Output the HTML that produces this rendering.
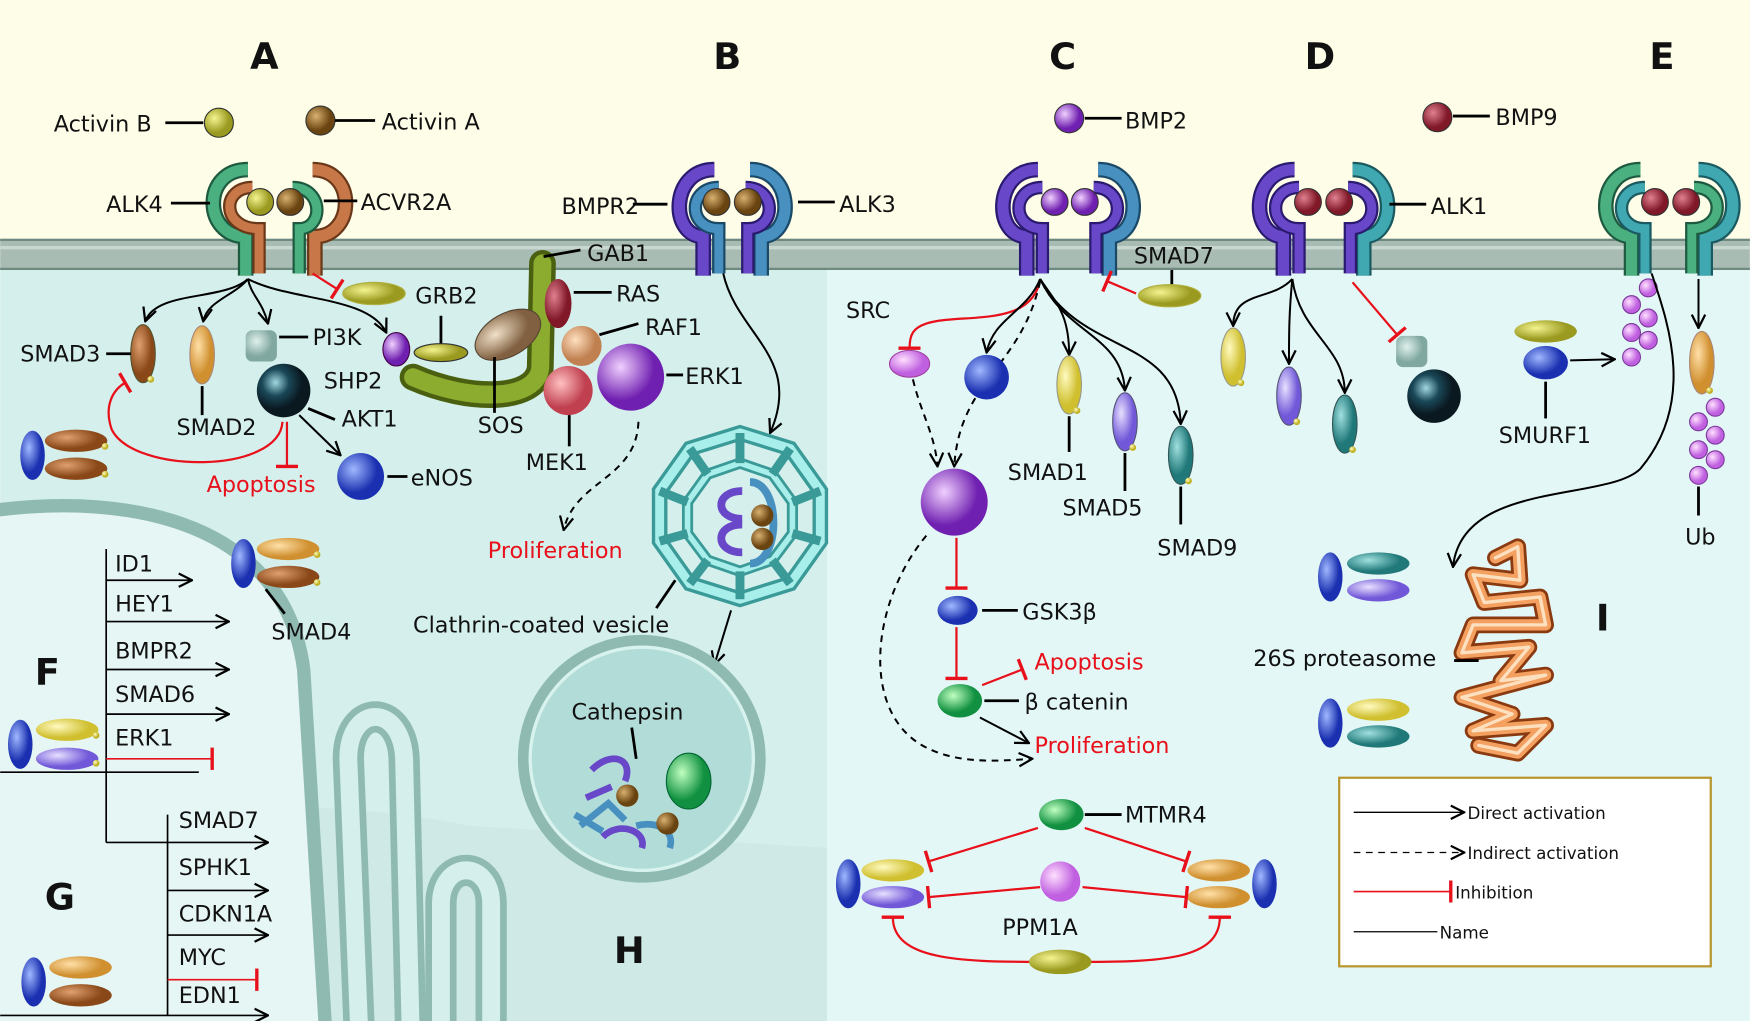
<!DOCTYPE html>
<html><head><meta charset="utf-8"><style>
html,body{margin:0;padding:0;background:#fefde8;}
svg{display:block}
text{font-family:"DejaVu Sans","Liberation Sans",sans-serif;font-size:20px;fill:#111}
.t{font-weight:bold;font-size:33px}
.r{fill:#e8101a}
.lg{font-size:15px}
</style></head><body>
<svg width="1750" height="1021" viewBox="0 0 1568 915" xmlns="http://www.w3.org/2000/svg">
<defs>
<marker id="ar" viewBox="0 0 14 14" refX="13" refY="7" markerWidth="14" markerHeight="14" markerUnits="userSpaceOnUse" orient="auto"><path d="M1,1 L13,7 L1,13" fill="none" stroke="#000" stroke-width="2"/></marker>
<marker id="bar" viewBox="0 0 4 20" refX="2" refY="10" markerWidth="4" markerHeight="20" markerUnits="userSpaceOnUse" orient="auto"><path d="M2,0 L2,20" stroke="#e8101a" stroke-width="3"/></marker>
<radialGradient id="gOl" cx="35%" cy="35%"><stop offset="0" stop-color="#f4f490"/><stop offset="1" stop-color="#9a9a20"/></radialGradient>
<radialGradient id="gBr" cx="35%" cy="35%"><stop offset="0" stop-color="#d8b070"/><stop offset="1" stop-color="#6a4410"/></radialGradient>
<radialGradient id="gPu" cx="35%" cy="35%"><stop offset="0" stop-color="#f0d0ff"/><stop offset="1" stop-color="#7020b0"/></radialGradient>
<radialGradient id="gMa" cx="35%" cy="35%"><stop offset="0" stop-color="#e08090"/><stop offset="1" stop-color="#801828"/></radialGradient>
<radialGradient id="gBl" cx="35%" cy="35%"><stop offset="0" stop-color="#a0b8ff"/><stop offset="1" stop-color="#1a30b0"/></radialGradient>
<radialGradient id="gDk" cx="35%" cy="35%"><stop offset="0" stop-color="#a0d8e0"/><stop offset="0.5" stop-color="#1a4858"/><stop offset="1" stop-color="#0a1820"/></radialGradient>
<radialGradient id="gYe" cx="35%" cy="35%"><stop offset="0" stop-color="#fffac0"/><stop offset="1" stop-color="#d0c030"/></radialGradient>
<radialGradient id="gOr" cx="35%" cy="35%"><stop offset="0" stop-color="#ffe0a8"/><stop offset="1" stop-color="#d09030"/></radialGradient>
<radialGradient id="gCu" cx="35%" cy="35%"><stop offset="0" stop-color="#e0a070"/><stop offset="1" stop-color="#8a4818"/></radialGradient>
<radialGradient id="gLa" cx="35%" cy="35%"><stop offset="0" stop-color="#e8e0ff"/><stop offset="1" stop-color="#7058d8"/></radialGradient>
<radialGradient id="gTe" cx="35%" cy="35%"><stop offset="0" stop-color="#a0e0e0"/><stop offset="1" stop-color="#207878"/></radialGradient>
<radialGradient id="gGr" cx="35%" cy="35%"><stop offset="0" stop-color="#c0ffc0"/><stop offset="1" stop-color="#109040"/></radialGradient>
<radialGradient id="gTa" cx="35%" cy="35%"><stop offset="0" stop-color="#f0e0c8"/><stop offset="1" stop-color="#806040"/></radialGradient>
<radialGradient id="gPk" cx="35%" cy="35%"><stop offset="0" stop-color="#ffc0c0"/><stop offset="1" stop-color="#c04050"/></radialGradient>
<radialGradient id="gPe" cx="35%" cy="35%"><stop offset="0" stop-color="#ffe0c0"/><stop offset="1" stop-color="#c08050"/></radialGradient>
<radialGradient id="gLi" cx="35%" cy="35%"><stop offset="0" stop-color="#ffe0ff"/><stop offset="1" stop-color="#c060e0"/></radialGradient>
<radialGradient id="gMi" cx="35%" cy="35%"><stop offset="0" stop-color="#e0f0ec"/><stop offset="1" stop-color="#80a8a0"/></radialGradient>
<radialGradient id="gSm" cx="35%" cy="35%"><stop offset="0" stop-color="#ffffc0"/><stop offset="1" stop-color="#c0b020"/></radialGradient>
</defs>

<rect x="0" y="0" width="1568" height="915" fill="#fefde8"/>
<rect x="0" y="240" width="741" height="675" fill="#d4efec"/>
<rect x="741" y="240" width="827" height="675" fill="#e4f7f7"/>
<path d="M0,730 C150,720 300,715 420,740 L741,760 L741,915 L0,915 Z" fill="#cfeae6"/>
<rect x="0" y="214" width="1568" height="28" fill="#a9bcb4"/>
<line x1="0" y1="215" x2="1568" y2="215" stroke="#6f8a80" stroke-width="2"/>
<line x1="0" y1="241" x2="1568" y2="241" stroke="#6f8a80" stroke-width="2"/>
<line x1="0" y1="222" x2="1568" y2="222" stroke="#c8d8d0" stroke-width="3"/>

<path d="M-10,458 C120,440 255,470 272,600 L292,930 L-10,930 Z" fill="#e6f6f4" stroke="#8fbab2" stroke-width="12"/>
<path d="M322,930 L312,680 C312,630 360,630 362,680 L368,930" fill="none" stroke="#8fbab2" stroke-width="28"/>
<path d="M322,930 L312,680 C312,630 360,630 362,680 L368,930" fill="none" stroke="#d4efec" stroke-width="16"/>
<path d="M395,930 L395,810 C395,770 440,770 440,810 L440,930" fill="none" stroke="#8fbab2" stroke-width="28"/>
<path d="M395,930 L395,810 C395,770 440,770 440,810 L440,930" fill="none" stroke="#d4efec" stroke-width="16"/>

<text class="t" x="224" y="62">A</text>
<text class="t" x="639" y="62">B</text>
<text class="t" x="940" y="62">C</text>
<text class="t" x="1169" y="62">D</text>
<text class="t" x="1478" y="62">E</text>
<text class="t" x="31" y="614">F</text>
<text class="t" x="40" y="815">G</text>
<text class="t" x="550" y="863">H</text>
<text class="t" x="1430" y="565">I</text>

<!-- A -->
<text x="48" y="118">Activin B</text><line x1="148" y1="110" x2="182" y2="110" stroke="#000" stroke-width="2.5"/>
<circle cx="196" cy="110" r="13" fill="url(#gOl)" stroke="#333"/>
<circle cx="287" cy="108" r="13" fill="url(#gBr)" stroke="#333"/>
<line x1="300" y1="108" x2="336" y2="108" stroke="#000" stroke-width="2.5"/><text x="342" y="116">Activin A</text>
<g fill="none" stroke-linecap="butt">
<path d="M222,152 C180,152 182,212 220,212 L220,247" stroke="#1d5a40" stroke-width="14"/>
<path d="M222,152 C180,152 182,212 220,212 L220,247" stroke="#4ab080" stroke-width="10"/>
<path d="M226,168 C198,168 198,205 232,205 L232,245" stroke="#6a3818" stroke-width="12"/>
<path d="M226,168 C198,168 198,205 232,205 L232,245" stroke="#c87848" stroke-width="8"/>
<path d="M280,152 C320,152 318,212 282,212 L282,247" stroke="#6a3818" stroke-width="14"/>
<path d="M280,152 C320,152 318,212 282,212 L282,247" stroke="#c87848" stroke-width="10"/>
<path d="M262,168 C290,168 290,205 268,205 L268,245" stroke="#1d5a40" stroke-width="12"/>
<path d="M262,168 C290,168 290,205 268,205 L268,245" stroke="#4ab080" stroke-width="8"/>
</g>
<circle cx="233" cy="181" r="12" fill="url(#gOl)" stroke="#333"/>
<circle cx="260" cy="181" r="12" fill="url(#gBr)" stroke="#333"/>
<text x="95" y="190">ALK4</text><line x1="153" y1="182" x2="188" y2="182" stroke="#000" stroke-width="2.5"/>
<line x1="290" y1="180" x2="320" y2="180" stroke="#000" stroke-width="2.5"/><text x="323" y="188">ACVR2A</text>
<g fill="none" stroke="#000" stroke-width="1.8" marker-end="url(#ar)">
<path d="M222,250 C200,270 140,260 130,288"/>
<path d="M222,250 C210,265 185,270 182,288"/>
<path d="M222,250 C225,265 235,270 240,290"/>
<path d="M222,250 C260,270 330,265 346,298"/>
</g>
<line x1="280" y1="245" x2="302" y2="259" stroke="#e8101a" stroke-width="2" marker-end="url(#bar)"/>
<ellipse cx="335" cy="263" rx="28" ry="10" fill="url(#gOl)" stroke="#b0b040"/>
<ellipse cx="128" cy="317" rx="11" ry="26" fill="url(#gCu)" stroke="#553"/><circle cx="135" cy="340" r="3" fill="url(#gSm)"/>
<text x="18" y="324">SMAD3</text><line x1="95" y1="317" x2="117" y2="317" stroke="#000" stroke-width="2.5"/>
<ellipse cx="181" cy="318" rx="11" ry="26" fill="url(#gOr)" stroke="#a87"/><line x1="181" y1="346" x2="181" y2="372" stroke="#000" stroke-width="2.5"/>
<text x="158" y="390">SMAD2</text>
<rect x="220" y="296" width="28" height="28" rx="6" fill="url(#gMi)"/>
<line x1="250" y1="302" x2="276" y2="302" stroke="#000" stroke-width="2.5"/><text x="280" y="309">PI3K</text>
<circle cx="254" cy="350" r="24" fill="url(#gDk)"/>
<line x1="276" y1="366" x2="300" y2="376" stroke="#000" stroke-width="2.5"/><text x="306" y="382">AKT1</text>
<ellipse cx="355" cy="313" rx="12" ry="15" fill="url(#gPu)" stroke="#404"/>
<text x="290" y="348">SHP2</text>
<path d="M253,378 C250,425 120,425 100,385 C93,365 100,350 112,343" fill="none" stroke="#e8101a" stroke-width="2" marker-end="url(#bar)"/>
<line x1="257" y1="378" x2="257" y2="418" stroke="#e8101a" stroke-width="2" marker-end="url(#bar)"/>
<text class="r" x="185" y="441">Apoptosis</text>
<line x1="268" y1="372" x2="305" y2="408" stroke="#000" stroke-width="1.8" marker-end="url(#ar)"/>
<circle cx="323" cy="427" r="21" fill="url(#gBl)"/>
<line x1="347" y1="427" x2="365" y2="427" stroke="#000" stroke-width="2.5"/><text x="368" y="435">eNOS</text>
<ellipse cx="29" cy="408" rx="11" ry="22" fill="url(#gBl)"/>
<ellipse cx="68" cy="395" rx="28" ry="10" fill="url(#gCu)"/><ellipse cx="68" cy="420" rx="28" ry="10" fill="url(#gCu)"/>
<circle cx="94" cy="400" r="3" fill="url(#gSm)"/><circle cx="94" cy="425" r="3" fill="url(#gSm)"/>
<line x1="395" y1="308" x2="395" y2="283" stroke="#000" stroke-width="2.5"/><text x="372" y="272">GRB2</text>
<path d="M486,236 L484,330 C480,360 420,360 370,338" fill="none" stroke="#4a6010" stroke-width="24" stroke-linecap="round"/>
<path d="M486,236 L484,330 C480,360 420,360 370,338" fill="none" stroke="#8cac30" stroke-width="16" stroke-linecap="round"/>
<ellipse cx="395" cy="316" rx="24" ry="8" fill="url(#gOl)" stroke="#333"/>
<ellipse cx="455" cy="300" rx="32" ry="19" transform="rotate(-30 455 300)" fill="url(#gTa)" stroke="#543"/>
<line x1="443" y1="320" x2="443" y2="370" stroke="#000" stroke-width="2.5"/><text x="428" y="388">SOS</text>
<line x1="487" y1="230" x2="520" y2="224" stroke="#000" stroke-width="2.5"/><text x="526" y="234">GAB1</text>
<ellipse cx="500" cy="272" rx="12" ry="22" fill="url(#gMa)"/>
<line x1="514" y1="262" x2="548" y2="262" stroke="#000" stroke-width="2.5"/><text x="552" y="270">RAS</text>
<circle cx="521" cy="310" r="18" fill="url(#gPe)"/>
<line x1="537" y1="300" x2="572" y2="290" stroke="#000" stroke-width="2.5"/><text x="578" y="300">RAF1</text>
<circle cx="509" cy="350" r="22" fill="url(#gPk)"/>
<circle cx="565" cy="338" r="30" fill="url(#gPu)"/>
<line x1="597" y1="336" x2="612" y2="336" stroke="#000" stroke-width="2.5"/><text x="614" y="344">ERK1</text>
<line x1="510" y1="372" x2="510" y2="400" stroke="#000" stroke-width="2.5"/><text x="471" y="421">MEK1</text>
<path d="M572,378 C570,430 515,430 505,475" fill="none" stroke="#000" stroke-width="1.8" stroke-dasharray="6,5" marker-end="url(#ar)"/>
<text class="r" x="437" y="500">Proliferation</text>

<!-- B -->
<g fill="none">
<path d="M640,152 C600,152 600,212 630,212 L630,247" stroke="#2a1a70" stroke-width="14"/>
<path d="M640,152 C600,152 600,212 630,212 L630,247" stroke="#6848c8" stroke-width="10"/>
<path d="M644,168 C616,168 616,205 644,205 L644,245" stroke="#1a4a68" stroke-width="12"/>
<path d="M644,168 C616,168 616,205 644,205 L644,245" stroke="#4890c0" stroke-width="8"/>
<path d="M672,152 C712,152 712,212 682,212 L682,247" stroke="#1a4a68" stroke-width="14"/>
<path d="M672,152 C712,152 712,212 682,212 L682,247" stroke="#4890c0" stroke-width="10"/>
<path d="M668,168 C696,168 696,205 670,205 L670,245" stroke="#2a1a70" stroke-width="12"/>
<path d="M668,168 C696,168 696,205 670,205 L670,245" stroke="#6848c8" stroke-width="8"/>
</g>
<circle cx="642" cy="181" r="12" fill="url(#gBr)" stroke="#333"/><circle cx="670" cy="181" r="12" fill="url(#gBr)" stroke="#333"/>
<text x="503" y="192">BMPR2</text><line x1="567" y1="183" x2="598" y2="183" stroke="#000" stroke-width="2.5"/>
<line x1="715" y1="181" x2="748" y2="181" stroke="#000" stroke-width="2.5"/><text x="752" y="190">ALK3</text>
<path d="M648,245 C660,300 720,320 690,388" fill="none" stroke="#000" stroke-width="1.8" marker-end="url(#ar)"/>
<g fill="none">
<polygon points="663,388 708,402 735,440 735,485 708,523 663,537 618,523 591,485 591,440 618,402" stroke="#3a9a98" stroke-width="14"/>
<polygon points="663,388 708,402 735,440 735,485 708,523 663,537 618,523 591,485 591,440 618,402" stroke="#a8eeea" stroke-width="8"/>
<polygon points="663,415 692,425 710,450 710,478 692,502 663,512 634,502 616,478 616,450 634,425" stroke="#3a9a98" stroke-width="10"/>
<polygon points="663,415 692,425 710,450 710,478 692,502 663,512 634,502 616,478 616,450 634,425" stroke="#a8eeea" stroke-width="5"/>
<g stroke="#3a9a98" stroke-width="8">
<line x1="663" y1="388" x2="663" y2="415"/><line x1="708" y1="402" x2="692" y2="425"/><line x1="735" y1="440" x2="710" y2="450"/><line x1="735" y1="485" x2="710" y2="478"/><line x1="708" y1="523" x2="692" y2="502"/><line x1="663" y1="537" x2="663" y2="512"/><line x1="618" y1="523" x2="634" y2="502"/><line x1="591" y1="485" x2="616" y2="478"/><line x1="591" y1="440" x2="616" y2="450"/><line x1="618" y1="402" x2="634" y2="425"/>
</g>
<path d="M665,440 C640,440 640,465 665,465" stroke="#6848c8" stroke-width="7"/>
<path d="M665,470 C640,470 640,495 665,495" stroke="#6848c8" stroke-width="7"/>
<path d="M672,432 C700,432 700,505 672,505" stroke="#4890c0" stroke-width="7"/>
</g>
<circle cx="683" cy="462" r="10" fill="url(#gBr)"/><circle cx="683" cy="483" r="10" fill="url(#gBr)"/>
<path d="M605,520 L588,545" stroke="#000" stroke-width="2.5"/>
<text x="370" y="567">Clathrin-coated vesicle</text>
<line x1="655" y1="547" x2="640" y2="596" stroke="#000" stroke-width="1.8" marker-end="url(#ar)"/>
<circle cx="575" cy="680" r="106" fill="#b2dcd8" stroke="#8fbab2" stroke-width="10"/>
<circle cx="575" cy="680" r="100" fill="none" stroke="#d8f2ee" stroke-width="3"/>
<text x="512" y="645">Cathepsin</text>
<line x1="566" y1="652" x2="570" y2="680" stroke="#000" stroke-width="2.5"/>
<ellipse cx="617" cy="700" rx="20" ry="25" fill="url(#gGr)" stroke="#063"/>
<g fill="none" stroke-width="6">
<path d="M530,690 C548,672 568,680 560,700" stroke="#6848c8"/>
<path d="M520,740 L545,720 L560,735" stroke="#4890c0"/>
<path d="M540,750 C555,735 580,745 575,760" stroke="#6848c8"/>
<path d="M570,740 C590,735 605,745 600,760" stroke="#4890c0"/>
<path d="M525,715 L548,705" stroke="#6848c8"/>
<path d="M515,730 L540,745" stroke="#4890c0"/>
</g>
<circle cx="562" cy="713" r="10" fill="url(#gBr)"/><circle cx="598" cy="738" r="10" fill="url(#gBr)"/>

<!-- F / G -->
<g stroke="#000" stroke-width="1.5" fill="none">
<line x1="95" y1="492" x2="95" y2="755"/>
<line x1="95" y1="520" x2="172" y2="520" marker-end="url(#ar)"/>
<line x1="95" y1="557" x2="205" y2="557" marker-end="url(#ar)"/>
<line x1="95" y1="600" x2="205" y2="600" marker-end="url(#ar)"/>
<line x1="95" y1="640" x2="205" y2="640" marker-end="url(#ar)"/>
<line x1="0" y1="692" x2="178" y2="692"/>
<line x1="95" y1="755" x2="150" y2="755"/>
<line x1="150" y1="730" x2="150" y2="910"/>
<line x1="150" y1="755" x2="240" y2="755" marker-end="url(#ar)"/>
<line x1="150" y1="798" x2="240" y2="798" marker-end="url(#ar)"/>
<line x1="150" y1="838" x2="240" y2="838" marker-end="url(#ar)"/>
<line x1="0" y1="910" x2="240" y2="910" marker-end="url(#ar)"/>
</g>
<line x1="95" y1="680" x2="190" y2="680" stroke="#e8101a" stroke-width="1.5" marker-end="url(#bar)"/>
<line x1="150" y1="878" x2="230" y2="878" stroke="#e8101a" stroke-width="1.5" marker-end="url(#bar)"/>
<text x="103" y="512">ID1</text><text x="103" y="548">HEY1</text><text x="103" y="590">BMPR2</text><text x="103" y="629">SMAD6</text><text x="103" y="668">ERK1</text>
<text x="160" y="742">SMAD7</text><text x="160" y="784">SPHK1</text><text x="160" y="826">CDKN1A</text><text x="160" y="865">MYC</text><text x="160" y="899">EDN1</text>
<ellipse cx="18" cy="667" rx="11" ry="22" fill="url(#gBl)"/>
<ellipse cx="60" cy="654" rx="28" ry="10" fill="url(#gYe)"/><ellipse cx="60" cy="680" rx="28" ry="10" fill="url(#gLa)"/>
<circle cx="86" cy="659" r="3" fill="url(#gSm)"/><circle cx="86" cy="684" r="3" fill="url(#gSm)"/>
<ellipse cx="30" cy="880" rx="11" ry="22" fill="url(#gBl)"/>
<ellipse cx="72" cy="867" rx="28" ry="10" fill="url(#gOr)"/><ellipse cx="72" cy="892" rx="28" ry="10" fill="url(#gCu)"/>
<ellipse cx="218" cy="505" rx="11" ry="22" fill="url(#gBl)"/>
<ellipse cx="258" cy="492" rx="28" ry="10" fill="url(#gOr)"/><ellipse cx="258" cy="517" rx="28" ry="10" fill="url(#gCu)"/>
<circle cx="284" cy="497" r="3" fill="url(#gSm)"/><circle cx="284" cy="522" r="3" fill="url(#gSm)"/>
<line x1="238" y1="528" x2="255" y2="550" stroke="#000" stroke-width="2.5"/><text x="243" y="573">SMAD4</text>

<!-- C -->
<circle cx="958" cy="106" r="13" fill="url(#gPu)" stroke="#333"/>
<line x1="972" y1="106" x2="1005" y2="106" stroke="#000" stroke-width="2.5"/><text x="1008" y="115">BMP2</text>
<g fill="none">
<path d="M930,152 C890,152 890,212 920,212 L920,247" stroke="#2a1a70" stroke-width="14"/>
<path d="M930,152 C890,152 890,212 920,212 L920,247" stroke="#6848c8" stroke-width="10"/>
<path d="M934,168 C906,168 906,205 934,205 L934,245" stroke="#2a1a70" stroke-width="12"/>
<path d="M934,168 C906,168 906,205 934,205 L934,245" stroke="#6848c8" stroke-width="8"/>
<path d="M984,152 C1024,152 1024,212 994,212 L994,247" stroke="#1a4a68" stroke-width="14"/>
<path d="M984,152 C1024,152 1024,212 994,212 L994,247" stroke="#4890c0" stroke-width="10"/>
<path d="M980,168 C1008,168 1008,205 982,205 L982,245" stroke="#2a1a70" stroke-width="12"/>
<path d="M980,168 C1008,168 1008,205 982,205 L982,245" stroke="#6848c8" stroke-width="8"/>
</g>
<circle cx="945" cy="181" r="12" fill="url(#gPu)" stroke="#333"/><circle cx="972" cy="181" r="12" fill="url(#gPu)" stroke="#333"/>
<text x="1016" y="236">SMAD7</text><line x1="1050" y1="242" x2="1050" y2="255" stroke="#000" stroke-width="2.5"/>
<ellipse cx="1048" cy="265" rx="28" ry="10" fill="url(#gOl)" stroke="#b0b040"/>
<line x1="1018" y1="263" x2="992" y2="252" stroke="#e8101a" stroke-width="2" marker-end="url(#bar)"/>
<path d="M932,250 C925,295 860,280 830,290 C818,294 815,300 815,312" fill="none" stroke="#e8101a" stroke-width="2" marker-end="url(#bar)"/>
<ellipse cx="815" cy="326" rx="18" ry="12" fill="url(#gLi)" stroke="#a040a0"/>
<text x="758" y="285">SRC</text>
<g fill="none" stroke="#000" stroke-width="1.8" marker-end="url(#ar)">
<path d="M932,250 C920,280 890,285 884,316"/>
<path d="M932,250 C945,270 958,280 958,318"/>
<path d="M932,250 C955,300 1005,300 1008,350"/>
<path d="M932,250 C970,320 1055,300 1058,380"/>
</g>
<g fill="none" stroke="#000" stroke-width="1.8" stroke-dasharray="6,5" marker-end="url(#ar)">
<path d="M932,252 C915,330 860,340 855,418"/>
<path d="M818,340 C825,370 838,390 840,418"/>
<path d="M830,480 C780,540 770,640 830,670 C860,685 895,682 925,680"/>
</g>
<circle cx="884" cy="338" r="20" fill="url(#gBl)"/>
<ellipse cx="958" cy="345" rx="11" ry="26" fill="url(#gYe)" stroke="#998"/><circle cx="965" cy="368" r="3" fill="url(#gSm)"/>
<ellipse cx="1008" cy="378" rx="11" ry="26" fill="url(#gLa)" stroke="#557"/><circle cx="1015" cy="401" r="3" fill="url(#gSm)"/>
<ellipse cx="1058" cy="408" rx="11" ry="26" fill="url(#gTe)" stroke="#355"/><circle cx="1065" cy="431" r="3" fill="url(#gSm)"/>
<line x1="958" y1="373" x2="958" y2="405" stroke="#000" stroke-width="2.5"/><text x="903" y="430">SMAD1</text>
<line x1="1008" y1="406" x2="1008" y2="440" stroke="#000" stroke-width="2.5"/><text x="952" y="462">SMAD5</text>
<line x1="1058" y1="436" x2="1058" y2="470" stroke="#000" stroke-width="2.5"/><text x="1037" y="498">SMAD9</text>
<circle cx="855" cy="450" r="30" fill="url(#gPu)"/>
<line x1="857" y1="482" x2="857" y2="527" stroke="#e8101a" stroke-width="2" marker-end="url(#bar)"/>
<ellipse cx="858" cy="547" rx="18" ry="13" fill="url(#gBl)"/>
<line x1="880" y1="547" x2="912" y2="547" stroke="#000" stroke-width="2.5"/><text x="916" y="555">GSK3β</text>
<line x1="857" y1="562" x2="857" y2="608" stroke="#e8101a" stroke-width="2" marker-end="url(#bar)"/>
<ellipse cx="860" cy="628" rx="20" ry="15" fill="url(#gGr)"/>
<line x1="882" y1="628" x2="913" y2="628" stroke="#000" stroke-width="2.5"/><text x="918" y="636">β catenin</text>
<line x1="880" y1="614" x2="916" y2="600" stroke="#e8101a" stroke-width="2" marker-end="url(#bar)"/>
<text class="r" x="927" y="600">Apoptosis</text>
<line x1="878" y1="643" x2="922" y2="666" stroke="#000" stroke-width="1.8" marker-end="url(#ar)"/>
<text class="r" x="927" y="675">Proliferation</text>
<ellipse cx="951" cy="730" rx="20" ry="14" fill="url(#gGr)"/>
<line x1="972" y1="730" x2="1005" y2="730" stroke="#000" stroke-width="2.5"/><text x="1008" y="737">MTMR4</text>
<ellipse cx="760" cy="792" rx="11" ry="22" fill="url(#gBl)"/>
<ellipse cx="800" cy="780" rx="28" ry="10" fill="url(#gYe)"/><ellipse cx="800" cy="804" rx="28" ry="10" fill="url(#gLa)"/>
<ellipse cx="1092" cy="780" rx="28" ry="10" fill="url(#gOr)"/><ellipse cx="1092" cy="804" rx="28" ry="10" fill="url(#gOr)"/>
<ellipse cx="1133" cy="792" rx="11" ry="22" fill="url(#gBl)"/>
<circle cx="950" cy="790" r="18" fill="url(#gLi)"/>
<text x="898" y="838">PPM1A</text>
<g stroke="#e8101a" stroke-width="2" fill="none" marker-end="url(#bar)">
<line x1="930" y1="742" x2="832" y2="772"/>
<line x1="972" y1="742" x2="1063" y2="772"/>
<line x1="932" y1="795" x2="832" y2="804"/>
<line x1="970" y1="795" x2="1063" y2="804"/>
<path d="M930,862 C860,862 800,860 800,822"/>
<path d="M970,862 C1040,862 1093,860 1093,822"/>
</g>
<ellipse cx="950" cy="862" rx="28" ry="11" fill="url(#gOl)"/>

<!-- D -->
<circle cx="1288" cy="105" r="13" fill="url(#gMa)" stroke="#333"/>
<line x1="1302" y1="104" x2="1335" y2="104" stroke="#000" stroke-width="2.5"/><text x="1340" y="112">BMP9</text>
<g fill="none">
<path d="M1160,152 C1120,152 1120,212 1150,212 L1150,247" stroke="#2a1a70" stroke-width="14"/>
<path d="M1160,152 C1120,152 1120,212 1150,212 L1150,247" stroke="#6848c8" stroke-width="10"/>
<path d="M1164,168 C1136,168 1136,205 1164,205 L1164,245" stroke="#2a1a70" stroke-width="12"/>
<path d="M1164,168 C1136,168 1136,205 1164,205 L1164,245" stroke="#6848c8" stroke-width="8"/>
<path d="M1212,152 C1252,152 1252,212 1222,212 L1222,247" stroke="#1a5a60" stroke-width="14"/>
<path d="M1212,152 C1252,152 1252,212 1222,212 L1222,247" stroke="#40a8b0" stroke-width="10"/>
<path d="M1208,168 C1236,168 1236,205 1210,205 L1210,245" stroke="#2a1a70" stroke-width="12"/>
<path d="M1208,168 C1236,168 1236,205 1210,205 L1210,245" stroke="#6848c8" stroke-width="8"/>
</g>
<circle cx="1172" cy="181" r="12" fill="url(#gMa)" stroke="#333"/><circle cx="1200" cy="181" r="12" fill="url(#gMa)" stroke="#333"/>
<line x1="1245" y1="183" x2="1278" y2="183" stroke="#000" stroke-width="2.5"/><text x="1282" y="192">ALK1</text>
<g fill="none" stroke="#000" stroke-width="1.8" marker-end="url(#ar)">
<path d="M1158,250 C1140,270 1105,260 1105,292"/>
<path d="M1158,250 C1155,280 1155,300 1155,326"/>
<path d="M1158,250 C1165,300 1205,310 1205,352"/>
</g>
<line x1="1212" y1="253" x2="1252" y2="300" stroke="#e8101a" stroke-width="2" marker-end="url(#bar)"/>
<ellipse cx="1105" cy="320" rx="11" ry="26" fill="url(#gYe)" stroke="#998"/><circle cx="1112" cy="343" r="3" fill="url(#gSm)"/>
<ellipse cx="1155" cy="355" rx="11" ry="26" fill="url(#gLa)" stroke="#557"/><circle cx="1162" cy="378" r="3" fill="url(#gSm)"/>
<ellipse cx="1205" cy="380" rx="11" ry="26" fill="url(#gTe)" stroke="#355"/><circle cx="1212" cy="403" r="3" fill="url(#gSm)"/>
<rect x="1251" y="301" width="28" height="28" rx="6" fill="url(#gMi)"/>
<circle cx="1285" cy="355" r="24" fill="url(#gDk)"/>

<!-- E -->
<g fill="none">
<path d="M1470,152 C1430,152 1430,212 1462,212 L1462,247" stroke="#1d5a40" stroke-width="14"/>
<path d="M1470,152 C1430,152 1430,212 1462,212 L1462,247" stroke="#4ab080" stroke-width="10"/>
<path d="M1474,168 C1446,168 1446,205 1474,205 L1474,245" stroke="#1a5a60" stroke-width="12"/>
<path d="M1474,168 C1446,168 1446,205 1474,205 L1474,245" stroke="#40a8b0" stroke-width="8"/>
<path d="M1522,152 C1562,152 1562,212 1528,212 L1528,247" stroke="#1a5a60" stroke-width="14"/>
<path d="M1522,152 C1562,152 1562,212 1528,212 L1528,247" stroke="#40a8b0" stroke-width="10"/>
<path d="M1518,168 C1546,168 1546,205 1516,205 L1516,245" stroke="#1d5a40" stroke-width="12"/>
<path d="M1518,168 C1546,168 1546,205 1516,205 L1516,245" stroke="#4ab080" stroke-width="8"/>
</g>
<circle cx="1483" cy="181" r="12" fill="url(#gMa)" stroke="#333"/><circle cx="1511" cy="181" r="12" fill="url(#gMa)" stroke="#333"/>
<g fill="url(#gLi)" stroke="#7a3a9a">
<circle cx="1477" cy="258" r="8"/><circle cx="1462" cy="273" r="8"/><circle cx="1477" cy="285" r="8"/><circle cx="1462" cy="298" r="8"/><circle cx="1477" cy="305" r="8"/><circle cx="1462" cy="320" r="8"/>
<circle cx="1537" cy="365" r="8"/><circle cx="1522" cy="378" r="8"/><circle cx="1537" cy="390" r="8"/><circle cx="1522" cy="403" r="8"/><circle cx="1537" cy="412" r="8"/><circle cx="1522" cy="426" r="8"/>
</g>
<ellipse cx="1385" cy="297" rx="28" ry="10" fill="url(#gOl)"/>
<ellipse cx="1385" cy="325" rx="20" ry="15" fill="url(#gBl)"/>
<line x1="1407" y1="323" x2="1447" y2="322" stroke="#000" stroke-width="1.8" marker-end="url(#ar)"/>
<line x1="1385" y1="342" x2="1385" y2="375" stroke="#000" stroke-width="2.5"/><text x="1343" y="397">SMURF1</text>
<line x1="1522" y1="250" x2="1522" y2="294" stroke="#000" stroke-width="1.8" marker-end="url(#ar)"/>
<ellipse cx="1525" cy="325" rx="11" ry="28" fill="url(#gOr)" stroke="#a87"/><circle cx="1532" cy="350" r="3" fill="url(#gSm)"/>
<line x1="1522" y1="436" x2="1522" y2="462" stroke="#000" stroke-width="2.5"/><text x="1510" y="488">Ub</text>
<path d="M1480,245 C1495,290 1520,360 1470,420 C1440,450 1310,430 1302,508" fill="none" stroke="#000" stroke-width="1.8" marker-end="url(#ar)"/>
<g fill="none" stroke-linejoin="round" stroke-linecap="round">
<path d="M1340,500 L1360,490 L1362,520 L1320,515 L1330,540 L1380,535 L1385,560 L1320,560 L1310,585 L1370,580 L1345,610 L1385,605 L1310,625 L1355,640 L1320,655 L1385,650 L1360,675 L1325,668" stroke="#8a3a10" stroke-width="15"/>
<path d="M1340,500 L1360,490 L1362,520 L1320,515 L1330,540 L1380,535 L1385,560 L1320,560 L1310,585 L1370,580 L1345,610 L1385,605 L1310,625 L1355,640 L1320,655 L1385,650 L1360,675 L1325,668" stroke="#f4a060" stroke-width="10"/>
<path d="M1340,500 L1360,490 L1362,520 L1320,515 L1330,540 L1380,535 L1385,560 L1320,560 L1310,585 L1370,580 L1345,610 L1385,605 L1310,625 L1355,640 L1320,655 L1385,650 L1360,675 L1325,668" stroke="#fde0c0" stroke-width="3"/>
</g>
<text x="1123" y="597">26S proteasome</text><line x1="1303" y1="592" x2="1325" y2="592" stroke="#000" stroke-width="2.5"/>
<ellipse cx="1192" cy="517" rx="11" ry="22" fill="url(#gBl)"/>
<ellipse cx="1235" cy="505" rx="28" ry="10" fill="url(#gTe)"/><ellipse cx="1235" cy="529" rx="28" ry="10" fill="url(#gLa)"/>
<ellipse cx="1192" cy="648" rx="11" ry="22" fill="url(#gBl)"/>
<ellipse cx="1235" cy="636" rx="28" ry="10" fill="url(#gYe)"/><ellipse cx="1235" cy="660" rx="28" ry="10" fill="url(#gTe)"/>

<rect x="1200" y="697" width="333" height="169" fill="#fff" stroke="#b8962e" stroke-width="2"/>
<line x1="1213" y1="728" x2="1312" y2="728" stroke="#000" stroke-width="1.2" marker-end="url(#ar)"/>
<text class="lg" x="1315" y="734">Direct activation</text>
<line x1="1213" y1="764" x2="1312" y2="764" stroke="#000" stroke-width="1.2" stroke-dasharray="6,5" marker-end="url(#ar)"/>
<text class="lg" x="1315" y="770">Indirect activation</text>
<line x1="1213" y1="799" x2="1300" y2="799" stroke="#e8101a" stroke-width="1.5" marker-end="url(#bar)"/>
<text class="lg" x="1304" y="805">Inhibition</text>
<line x1="1213" y1="835" x2="1288" y2="835" stroke="#000" stroke-width="1.2"/>
<text class="lg" x="1290" y="841">Name</text>
</svg>
</body></html>
